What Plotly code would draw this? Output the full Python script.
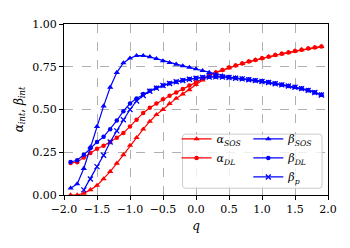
import plotly.graph_objects as go

q = [-1.9, -1.8, -1.7, -1.6, -1.5, -1.4, -1.3, -1.2, -1.1, -1.0,
     -0.9, -0.8, -0.7, -0.6, -0.5, -0.4, -0.3, -0.2, -0.1, 0.0,
     0.1, 0.2, 0.3, 0.4, 0.5, 0.6, 0.7, 0.8, 0.9, 1.0,
     1.1, 1.2, 1.3, 1.4, 1.5, 1.6, 1.7, 1.8, 1.9]

alpha_sos = [0.0, 0.0, 0.01, 0.03, 0.056, 0.094, 0.137, 0.185, 0.235, 0.29,
             0.335, 0.385, 0.43, 0.47, 0.50, 0.535, 0.565, 0.59, 0.615, 0.645,
             0.672, 0.697, 0.716, 0.73, 0.744, 0.757, 0.769, 0.78, 0.79, 0.80,
             0.809, 0.818, 0.826, 0.834, 0.842, 0.849, 0.856, 0.862, 0.868]
alpha_dl = [0.187, 0.192, 0.22, 0.245, 0.27, 0.288, 0.31, 0.335, 0.362, 0.40,
            0.44, 0.48, 0.51, 0.535, 0.56, 0.58, 0.60, 0.62, 0.64, 0.66,
            0.68, 0.70, 0.717, 0.731, 0.745, 0.757, 0.769, 0.78, 0.79, 0.80,
            0.809, 0.818, 0.826, 0.834, 0.842, 0.849, 0.856, 0.862, 0.868]
beta_sos = [0.04, 0.065, 0.155, 0.28, 0.40, 0.52, 0.63, 0.716, 0.772, 0.80,
            0.815, 0.815, 0.808, 0.797, 0.784, 0.774, 0.764, 0.755, 0.746, 0.737,
            0.727, 0.716, 0.706, 0.697, 0.69, 0.685, 0.68, 0.675, 0.67, 0.665,
            0.659, 0.652, 0.645, 0.638, 0.631, 0.623, 0.613, 0.60, 0.586]
beta_dl = [0.193, 0.203, 0.235, 0.273, 0.31, 0.34, 0.385, 0.435, 0.49, 0.535,
           0.565, 0.59, 0.61, 0.627, 0.641, 0.653, 0.663, 0.671, 0.678, 0.684,
           0.688, 0.691, 0.692, 0.691, 0.688, 0.684, 0.68, 0.675, 0.67, 0.665,
           0.659, 0.652, 0.645, 0.638, 0.631, 0.623, 0.613, 0.60, 0.586]
beta_p = [None, None, 0.03, 0.094, 0.166, 0.232, 0.31, 0.375, 0.44, 0.50,
          0.55, 0.582, 0.607, 0.625, 0.64, 0.652, 0.662, 0.67, 0.677, 0.683,
          0.687, 0.69, 0.691, 0.69, 0.687, 0.683, 0.679, 0.674, 0.669, 0.664,
          0.658, 0.651, 0.644, 0.637, 0.63, 0.622, 0.612, 0.599, 0.585]

x_ticks = [-2.0, -1.5, -1.0, -0.5, 0.0, 0.5, 1.0, 1.5, 2.0]
y_ticks = [0.0, 0.25, 0.5, 0.75, 1.0]

RED = "#ff0000"
BLUE = "#0000ff"
FONT = "DejaVu Serif"

series = [
    ("<i>α</i><sub><i>SOS</i></sub>", alpha_sos, RED, "triangle-up", 5.5, "legend"),
    ("<i>α</i><sub><i>DL</i></sub>", alpha_dl, RED, "circle", 4.5, "legend"),
    ("<i>β</i><sub><i>SOS</i></sub>", beta_sos, BLUE, "triangle-up", 5.5, "legend2"),
    ("<i>β</i><sub><i>DL</i></sub>", beta_dl, BLUE, "circle", 4.5, "legend2"),
    ("<i>β</i><sub><i>p</i></sub>", beta_p, BLUE, "x-thin", 5, "legend2"),
]

fig = go.Figure()
for name, ys, col, sym, size, lg in series:
    fig.add_trace(go.Scatter(
        x=q, y=ys, name=name, mode="lines+markers",
        line=dict(color=col, width=1.2),
        marker=dict(symbol=sym, size=size, color=col,
                    line=dict(color=col, width=1.3 if sym == "x-thin" else 0)),
        legend=lg,
    ))

# page offset (body margin) of 8px; target pixel geometry in the 350x248 window
OFF = 8
W, H = 350 - OFF, 248 - OFF
PL, PR, PT, PB = 63, 328, 18, 195   # plot area in window pixels
L, T = PL - OFF, PT - OFF
R, B = W - (PR - OFF), H - (PB - OFF)
pw, ph = W - L - R, H - T - B

def px2paper(x, y):
    return (x - PL) / pw, (PB - y) / ph

x0, y0 = px2paper(182, 188)
x1, y1 = px2paper(322, 132)
rx, ry = 3 / pw, 3 / ph
path = (f"M {x0+rx},{y1} L {x1-rx},{y1} Q {x1},{y1} {x1},{y1-ry} "
        f"L {x1},{y0+ry} Q {x1},{y0} {x1-rx},{y0} L {x0+rx},{y0} "
        f"Q {x0},{y0} {x0},{y0+ry} L {x0},{y1-ry} Q {x0},{y1} {x0+rx},{y1} Z")
fig.add_shape(type="path", xref="paper", yref="paper", path=path,
              fillcolor="rgba(255,255,255,0.8)", line=dict(color="#cccccc", width=1),
              layer="above")

lx1, ly = px2paper(176, 122)
lx2, _ = px2paper(248, 122)
legend_common = dict(yanchor="top", xanchor="left", y=ly,
                     bgcolor="rgba(0,0,0,0)", borderwidth=0,
                     font=dict(family=FONT, size=11, color="#000"),
                     itemwidth=30, tracegroupgap=0)

fig.update_layout(
    width=W, height=H,
    margin=dict(l=L, r=R, t=T, b=B, pad=0),
    paper_bgcolor="white", plot_bgcolor="white",
    font=dict(family=FONT, size=11, color="#000"),
    showlegend=True,
    legend=dict(x=lx1, **legend_common),
    legend2=dict(x=lx2, **legend_common),
    xaxis=dict(
        range=[-2.0, 2.0], tickmode="array", tickvals=x_ticks, tickformat=".1f",
        showline=True, linecolor="#000", linewidth=1, mirror=True,
        ticks="outside", ticklen=4, tickcolor="#000", tickwidth=1,
        showgrid=True, gridcolor="#b0b0b0", griddash="dash", gridwidth=1,
        zeroline=False,
        title=dict(text="<i>q</i>", standoff=6, font=dict(family=FONT, size=12)),
        tickfont=dict(family=FONT, size=11),
    ),
    yaxis=dict(
        range=[0.0, 1.0], tickmode="array", tickvals=y_ticks, tickformat=".2f",
        showline=True, linecolor="#000", linewidth=1, mirror=True,
        ticks="outside", ticklen=4, tickcolor="#000", tickwidth=1,
        showgrid=True, gridcolor="#b0b0b0", griddash="dash", gridwidth=1,
        zeroline=False,
        title=dict(text="<i>α</i><sub><i>int</i></sub>, <i>β</i><sub><i>int</i></sub>",
                   standoff=6, font=dict(family=FONT, size=12)),
        tickfont=dict(family=FONT, size=11),
    ),
)

fig.write_html("out.html")
